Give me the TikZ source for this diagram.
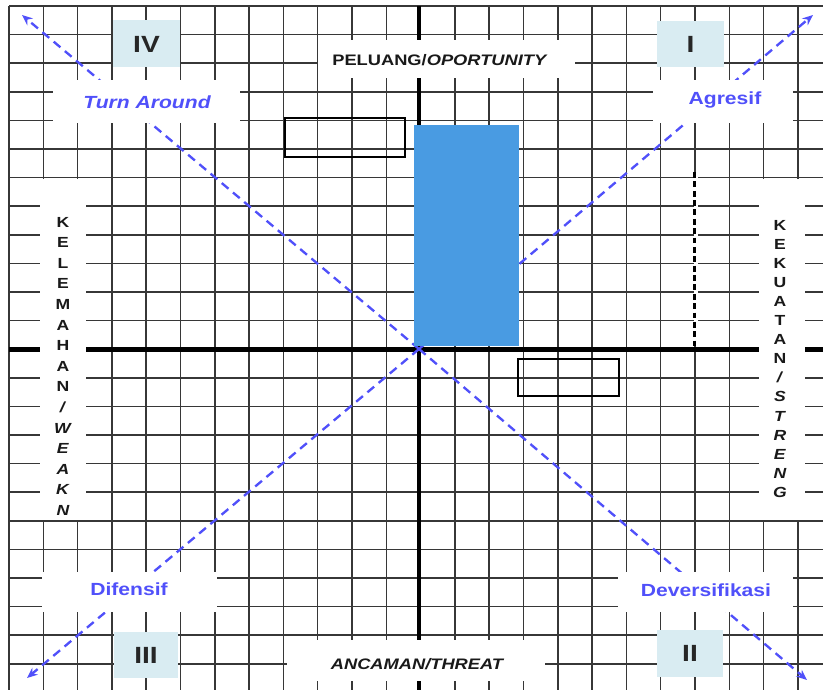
\documentclass[tikz,border=0pt]{standalone}
\usepackage{fontspec}
\setmainfont{Liberation Sans}
\usetikzlibrary{arrows.meta}

\definecolor{gridgray}{RGB}{55,55,55}
\definecolor{quadblue}{RGB}{217,236,242}
\definecolor{arrowblue}{RGB}{80,80,250}
\definecolor{barblue}{RGB}{73,155,226}

% text of the scan is stretched sideways
\newcommand{\hx}[1]{\scalebox{1.2}[1]{#1}}

\begin{document}
\begin{tikzpicture}[x=0.03cm, y=-0.03cm,
  gridline/.style={gridgray, line width=1.25pt},
  axisline/.style={black, line width=4pt},
  diag/.style={arrowblue, line width=2pt, dash pattern=on 7.5pt off 5pt,
    -{Stealth[length=9pt,width=7.5pt]}},
  cover/.style={fill=white},
  quad/.style={fill=quadblue},
  quadlabel/.style={font=\fontsize{20}{24}\selectfont\bfseries, text=black!85},
  zonelabel/.style={font=\fontsize{15}{18}\selectfont\bfseries, text=arrowblue},
  axislabel/.style={font=\fontsize{13}{16}\selectfont\bfseries, text=black!90},
  sideletter/.style={font=\fontsize{12.5}{14}\selectfont\bfseries, text=black!90, inner sep=0pt}]

\useasboundingbox (0,0) rectangle (823,690);
\clip (0,0) rectangle (823,690);

% grid
\foreach \i in {0,...,24}
  \draw[gridline] ({9+34.3*\i},6) -- ({9+34.3*\i},690);
\foreach \j in {0,...,24}
  \draw[gridline] (9,{6+28.6*\j}) -- (823,{6+28.6*\j});

% axes
\draw[axisline] (9,349.2) -- (823,349.2);
\draw[axisline] (419,6) -- (419,690);

% diagonals
\coordinate (o) at (419,349);
\coordinate (tl) at (22,15);
\coordinate (tr) at (813,15);
\coordinate (bl) at (27,678);
\coordinate (br) at (807,680);
\draw[diag] (o) -- (tl);
\draw[diag] (o) -- (tr);
\draw[diag] (o) -- (bl);
\draw[diag] (o) -- (br);

% position bar
\fill[barblue] (414,125) rectangle (519,346);

% empty frames
\draw[black, line width=1.1pt] (285,118) rectangle (405,157);
\draw[black, line width=1.1pt] (518,359) rectangle (619,396);

% dashed limit
\draw[white, line width=3pt] (696,172) -- (696,346);
\draw[black, line width=2pt, dash pattern=on 5pt off 3pt] (694.5,172) -- (694.5,346);

% white patches under the labels
\fill[cover] (318,40) rectangle (575,78);
\fill[cover] (287,640) rectangle (545,681);
\fill[cover] (53,80) rectangle (240,123);
\fill[cover] (653,80) rectangle (793,123);
\fill[cover] (42,572) rectangle (217,612);
\fill[cover] (618,572) rectangle (793,612);
\fill[cover] (40,179) rectangle (86,520);
\fill[cover] (759,179) rectangle (805,520);

% quadrant boxes
\fill[quad] (113,20) rectangle (180,67);
\fill[quad] (657,21) rectangle (724,67);
\fill[quad] (114,632) rectangle (178,678);
\fill[quad] (657,630) rectangle (723,677);

\node[quadlabel] (q4) at (146.5,44) {\hx{IV}};
\node[quadlabel] (q1) at (690.5,44) {\hx{I}};
\node[quadlabel] (q3) at (146,655) {\hx{III}};
\node[quadlabel] (q2) at (690,653.5) {\hx{II}};

% strategy names
\node[zonelabel] (turn) at (147,102) {\hx{\itshape Turn Around}};
\node[zonelabel] (agr) at (725,100) {\hx{Agresif}};
\node[zonelabel] (dif) at (129,589) {\hx{Difensif}};
\node[zonelabel] (div) at (706,590) {\hx{Deversifikasi}};

% axis names
\node[axislabel] (opp) at (440,60) {\hx{PELUANG/\textit{OPORTUNITY}}};
\node[axislabel] (thr) at (417,664) {\hx{\itshape ANCAMAN/THREAT}};

\foreach \ch [count=\i from 0] in {K,E,L,E,M,A,H,A,N,\textit{/},\textit{W},\textit{E},\textit{A},\textit{K},\textit{N}}
  \node[sideletter] (wk\i) at (63,{222+20.6*\i}) {\hx{\ch}};
\foreach \ch [count=\i from 0] in {K,E,K,U,A,T,A,N,\textit{/},\textit{S},\textit{T},\textit{R},\textit{E},\textit{N},\textit{G}}
  \node[sideletter] (st\i) at (780,{225+19.1*\i}) {\hx{\ch}};

\end{tikzpicture}
\end{document}
